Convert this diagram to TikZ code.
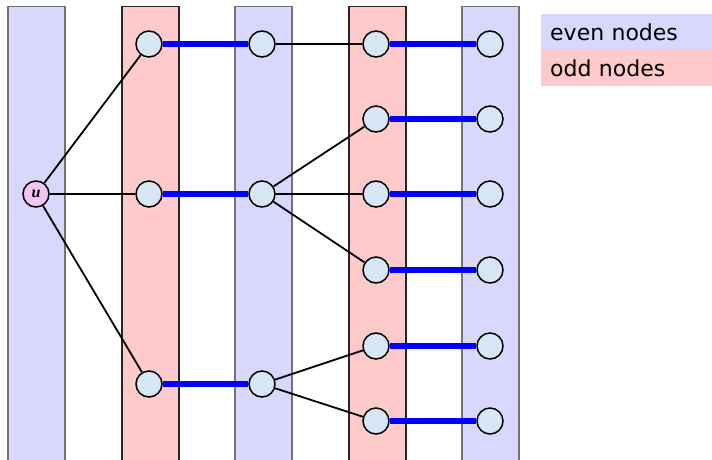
\documentclass[tikz,border=0pt]{standalone}
\usepackage{fontspec}
\newfontfamily\legfont{DejaVu Sans}
\newfontfamily\ufont{Liberation Serif}
\definecolor{evenc}{RGB}{216,216,255}
\definecolor{oddc}{RGB}{255,202,202}
\definecolor{nodec}{RGB}{214,230,245}
\definecolor{uc}{RGB}{244,196,244}
\tikzset{
  stripe/.style={line width=1.5pt},
  evenstripe/.style={stripe, fill=evenc, draw=black!55},
  oddstripe/.style={stripe, fill=oddc, draw=black!85},
  vert/.style={circle, draw=black, line width=1.5pt, fill=nodec, minimum size=26pt, inner sep=0pt},
  uvert/.style={vert, fill=uc, minimum size=26pt, font=\ufont\bfseries\itshape\fontsize{16}{16}\selectfont},
  tree/.style={line width=1.8pt, black},
  match/.style={line width=5.5pt, blue},
  legend/.style={anchor=north west, inner sep=0pt, minimum width=171pt, minimum height=36pt, text depth=0pt, font=\legfont\fontsize{22}{24}\selectfont, text width=171pt, align=left}
}
\begin{document}
\begin{tikzpicture}[x=1pt,y=-1pt]
\useasboundingbox (0,0) rectangle (712,459);
\begin{scope}
\clip (0,0) rectangle (712,459);
\foreach \xl/\st in {8/evenstripe,122/oddstripe,235/evenstripe,349/oddstripe,462/evenstripe}
  \draw[\st] (\xl,6.5) rectangle ++(57,460);
\end{scope}
% legend
\node[legend, fill=evenc] (le) at (541,14) {\hspace*{9pt}even nodes};
\node[legend, fill=oddc] (lo) at (541,50) {\hspace*{9pt}odd nodes};
% nodes
\node[uvert] (u) at (36,194) {u};
\node[vert] (a1) at (149,44) {};
\node[vert] (a2) at (149,194) {};
\node[vert] (a3) at (149,384) {};
\node[vert] (b1) at (262,44) {};
\node[vert] (b2) at (262,194) {};
\node[vert] (b3) at (262,384) {};
\foreach \i/\y in {1/44,2/119,3/194,4/270,5/346,6/421}{
  \node[vert] (c\i) at (376,\y) {};
  \node[vert] (d\i) at (490,\y) {};
}
% tree edges
\draw[tree] (u) -- (a1);
\draw[tree] (u) -- (a2);
\draw[tree] (u) -- (a3);
\draw[tree] (b1) -- (c1);
\draw[tree] (b2) -- (c2);
\draw[tree] (b2) -- (c3);
\draw[tree] (b2) -- (c4);
\draw[tree] (b3) -- (c5);
\draw[tree] (b3) -- (c6);
% matching edges
\draw[match] (a1) -- (b1);
\draw[match] (a2) -- (b2);
\draw[match] (a3) -- (b3);
\foreach \i in {1,...,6} \draw[match] (c\i) -- (d\i);
\end{tikzpicture}
\end{document}
